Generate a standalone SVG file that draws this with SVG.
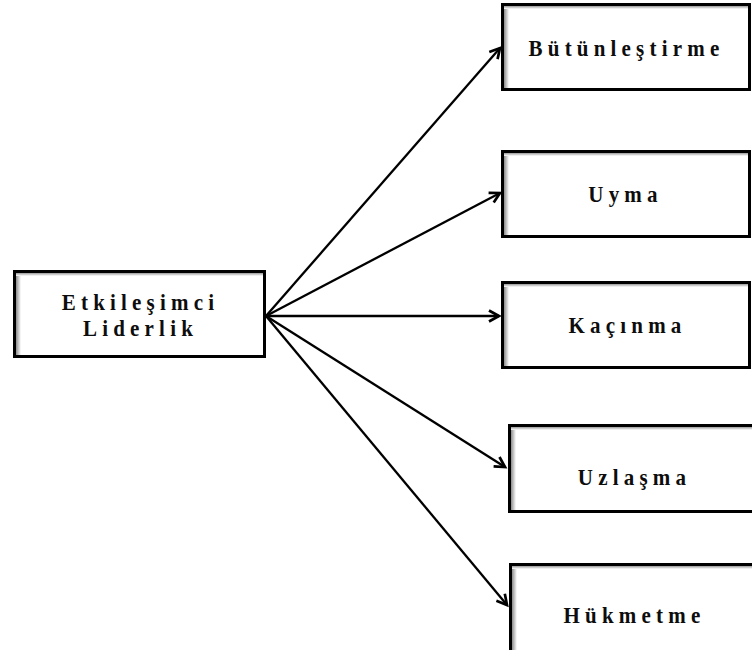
<svg xmlns="http://www.w3.org/2000/svg" width="752" height="650" viewBox="0 0 752 650">
  <defs>
    <style>
      .box { fill: #ffffff; stroke: #000000; stroke-width: 3; }
      .shade { fill: url(#edge); }
      .shadeTop { fill: url(#edgeTop); }
      .label { font-family: "Liberation Serif", "Times New Roman", serif; font-weight: bold; font-size: 21px; letter-spacing: 5.2px; fill: #0d0d0d; text-anchor: middle; }
      .link { stroke: #000000; stroke-width: 2.3; fill: none; marker-end: url(#arrow); }
    </style>
    <linearGradient id="edge" x1="0" y1="0" x2="1" y2="0">
      <stop offset="0" stop-color="#8c8c8c"/>
      <stop offset="1" stop-color="#ffffff"/>
    </linearGradient>
    <linearGradient id="edgeTop" x1="0" y1="0" x2="0" y2="1">
      <stop offset="0" stop-color="#9a9a9a"/>
      <stop offset="1" stop-color="#ffffff"/>
    </linearGradient>
    <marker id="arrow" markerUnits="userSpaceOnUse" markerWidth="16" markerHeight="16" viewBox="-12 -8 14 16" refX="0" refY="0" orient="auto">
      <path d="M-10,-5.5 L0,0 L-10,5.5" fill="none" stroke="#000000" stroke-width="2.7" stroke-linejoin="miter"/>
    </marker>
  </defs>

  <rect width="752" height="650" fill="#ffffff"/>

  <!-- connectors -->
  <g id="connectors">
    <line class="link" x1="266" y1="316" x2="500" y2="48"/>
    <line class="link" x1="266" y1="316" x2="500" y2="193"/>
    <line class="link" x1="266" y1="316" x2="499" y2="316"/>
    <line class="link" x1="266" y1="316" x2="505" y2="467"/>
    <line class="link" x1="266" y1="316" x2="507" y2="605"/>
  </g>

  <!-- source node -->
  <g id="etkilesimci-liderlik">
    <rect class="box" x="14.5" y="271.5" width="250" height="85"/>
    <rect class="shade" x="16" y="273" width="5" height="82"/>
    <rect class="shadeTop" x="16" y="273" width="247" height="3"/>
    <text class="label" transform="translate(140.5 310) scale(1 1.13)">Etkileşimci</text>
    <text class="label" transform="translate(140.5 336) scale(1 1.13)">Liderlik</text>
  </g>

  <!-- target nodes -->
  <g id="butunlestirme">
    <rect class="box" x="502.5" y="4.5" width="247" height="85"/>
    <rect class="shade" x="504" y="6" width="5" height="82"/>
    <rect class="shadeTop" x="504" y="6" width="244" height="3"/>
    <text class="label" transform="translate(626.5 56) scale(1 1.13)">Bütünleştirme</text>
  </g>

  <g id="uyma">
    <rect class="box" x="502.5" y="151.5" width="247" height="85"/>
    <rect class="shade" x="504" y="153" width="5" height="82"/>
    <rect class="shadeTop" x="504" y="153" width="244" height="3"/>
    <text class="label" transform="translate(625.5 202) scale(1 1.13)">Uyma</text>
  </g>

  <g id="kacinma">
    <rect class="box" x="502.5" y="282.5" width="247" height="85"/>
    <rect class="shade" x="504" y="284" width="5" height="82"/>
    <rect class="shadeTop" x="504" y="284" width="244" height="3"/>
    <text class="label" transform="translate(627.5 333) scale(1 1.13)">Kaçınma</text>
  </g>

  <g id="uzlasma">
    <rect class="box" x="509.5" y="425.5" width="260" height="86"/>
    <rect class="shade" x="511" y="427" width="5" height="83"/>
    <rect class="shadeTop" x="511" y="427" width="257" height="3"/>
    <text class="label" transform="translate(634.5 485) scale(1 1.13)">Uzlaşma</text>
  </g>

  <g id="hukmetme">
    <rect class="box" x="510.5" y="564.5" width="260" height="100"/>
    <rect class="shade" x="512" y="566" width="5" height="97"/>
    <rect class="shadeTop" x="512" y="566" width="257" height="3"/>
    <text class="label" transform="translate(634.5 623) scale(1 1.13)">Hükmetme</text>
  </g>
</svg>
